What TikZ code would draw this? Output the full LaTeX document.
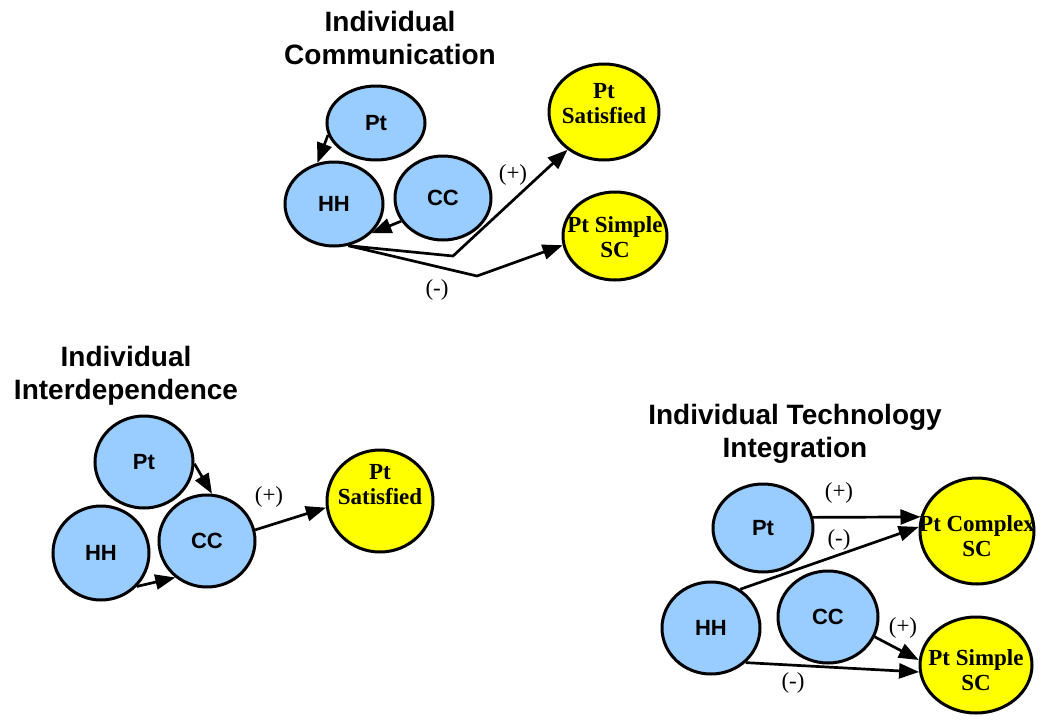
\documentclass[tikz,border=0pt]{standalone}
\usepackage{fontspec}
\setmainfont{Liberation Serif}
\setsansfont{Liberation Sans}
\usetikzlibrary{shapes.geometric,arrows.meta}
\definecolor{skyblue}{HTML}{99CCFF}
\definecolor{sunyellow}{HTML}{FFFF00}
\newcommand{\gtxt}[2][0pt]{\makebox[0pt]{\raisebox{#1}[0pt][0pt]{\begin{tabular}{@{}c@{}}#2\end{tabular}}}}
\tikzset{
  bubble/.style={ellipse, draw, line width=1.5pt, fill=skyblue, inner sep=0pt,
    font=\sffamily\bfseries\fontsize{11}{12}\selectfont},
  goal/.style={ellipse, draw, line width=1.5pt, fill=sunyellow, inner sep=0pt,
    font=\rmfamily\bfseries\fontsize{11.5}{12.75}\selectfont},
  heading/.style={align=center, font=\sffamily\bfseries\fontsize{14}{16.5}\selectfont},
  sign/.style={font=\rmfamily\fontsize{11.5}{13}\selectfont},
  link/.style={line width=1.35pt, -{Triangle[length=10pt,width=7.5pt]}}
}
\begin{document}
\begin{tikzpicture}[x=0.5pt,y=-0.5pt]
  \useasboundingbox (0,0) rectangle (1046,719);

  % communication
  \node[heading] (t1) at (390,38) {Individual\\Communication};
  \node[bubble, minimum width=49pt, minimum height=37pt] (pt1) at (376,123) {Pt};
  \node[bubble, minimum width=49pt, minimum height=42pt] (hh1) at (334,204) {HH};
  \node[bubble, minimum width=48pt, minimum height=42pt] (cc1) at (443,198) {CC};
  \node[goal, minimum width=55pt, minimum height=48pt] (sat1) at (604,112) {\gtxt[0pt]{Pt\\Satisfied}};
  \node[goal, minimum width=52pt, minimum height=44pt] (sim1) at (615,236) {\gtxt[-5pt]{Pt Simple\\SC}};
  \coordinate (k1) at (453,256);
  \coordinate (k2) at (477,276);
  \draw[link] (pt1.194) -- (hh1.112);
  \draw[link] (cc1.209) -- (hh1.-38);
  \draw[link] (hh1.-71) -- (k1) -- (sat1.226);
  \draw[link] (hh1.-71) -- (k2) -- (sim1.190);
  \node[sign] (s1) at (513,175) {(+)};
  \node[sign] (s2) at (437,290) {(-)};

  % interdependence
  \node[heading] (t2) at (126,376) {Individual\\Interdependence};
  \node[bubble, minimum width=49pt, minimum height=46pt] (pt2) at (144,462) {Pt};
  \node[bubble, minimum width=48pt, minimum height=47pt] (hh2) at (101,553) {HH};
  \node[bubble, minimum width=48pt, minimum height=46pt] (cc2) at (207,541) {CC};
  \node[goal, minimum width=53pt, minimum height=51pt] (sat2) at (380,501) {\gtxt[4pt]{Pt\\Satisfied}};
  \draw[link] (pt2.-2) -- (cc2.84);
  \draw[link] (hh2.-43) -- (cc2.229);
  \draw[link] (cc2.13) -- (sat2.187);
  \node[sign] (s3) at (269,497) {(+)};

  % technology integration
  \node[heading] (t3) at (795,434) {Individual Technology\\Integration};
  \node[bubble, minimum width=50pt, minimum height=44pt] (pt3) at (763,528) {Pt};
  \node[bubble, minimum width=49pt, minimum height=46pt] (hh3) at (711,628) {HH};
  \node[bubble, minimum width=50pt, minimum height=46pt] (cc3) at (828,617) {CC};
  \node[goal, minimum width=57pt, minimum height=53pt] (cpx3) at (977,531) {\gtxt[-7pt]{Pt Complex\\SC}};
  \node[goal, minimum width=56pt, minimum height=48pt] (sim3) at (976,665) {\gtxt[-7pt]{Pt Simple\\SC}};
  \draw[link] (pt3.12) -- (cpx3.166);
  \draw[link] (hh3.53) -- (cpx3.176);
  \draw[link] (cc3.-23) -- (sim3.175);
  \draw[link] (hh3.-45) -- (sim3.187);
  \node[sign] (s4) at (839,493) {(+)};
  \node[sign] (s5) at (839,540) {(-)};
  \node[sign] (s6) at (903,628) {(+)};
  \node[sign] (s7) at (793,683) {(-)};
\end{tikzpicture}
\end{document}
